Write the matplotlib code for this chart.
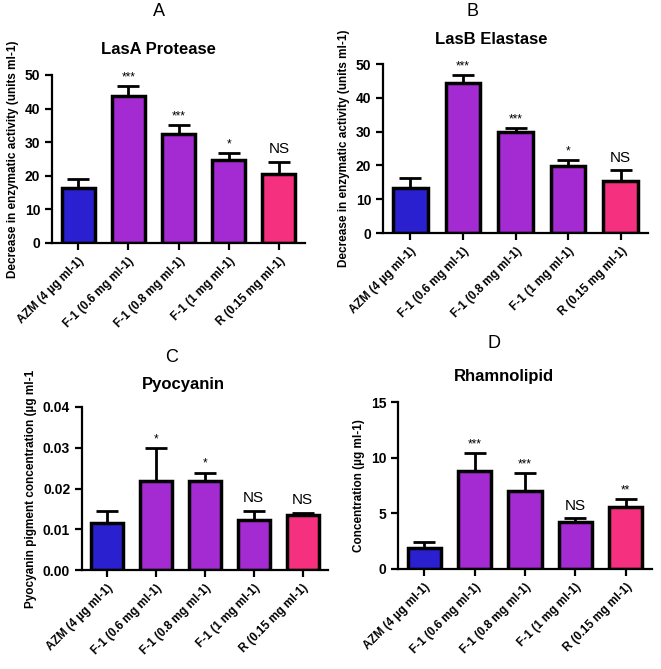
import numpy as np
import matplotlib
matplotlib.use('Agg')
import matplotlib.pyplot as plt

plt.rcParams['font.family'] = ['Liberation Sans', 'DejaVu Sans']

groups = ['AZM (4 µg ml-1)', 'F-1 (0.6 mg ml-1)', 'F-1 (0.8 mg ml-1)',
          'F-1 (1 mg ml-1)', 'R (0.15 mg ml-1)']
colors = ['#2b20d0', '#a42ad2', '#a42ad2', '#a42ad2', '#f5307f']

lasa_mean = [16.3, 43.8, 32.4, 24.8, 20.6]
lasa_err = [2.7, 2.8, 2.6, 1.9, 3.5]
lasa_sig = ['', '***', '***', '*', 'NS']

lasb_mean = [13.3, 44.4, 29.8, 19.9, 15.5]
lasb_err = [3.0, 2.2, 1.3, 1.7, 3.1]
lasb_sig = ['', '***', '***', '*', 'NS']

pyo_mean = [0.0115, 0.0219, 0.0219, 0.0122, 0.0135]
pyo_err = [0.0031, 0.0081, 0.0020, 0.0024, 0.0006]
pyo_sig = ['', '*', '*', 'NS', 'NS']

rha_mean = [1.85, 8.78, 7.05, 4.24, 5.6]
rha_err = [0.57, 1.65, 1.58, 0.3, 0.7]
rha_sig = ['', '***', '***', 'NS', '**']

fig = plt.figure(figsize=(6.61, 6.69), dpi=100)


def panel(rect, mean, err, sig, ymax, yticks, fmt, ylabel, letter, lpos, title, tpos):
    ax = fig.add_axes(rect)
    x = np.arange(len(groups))
    ax.bar(x, mean, width=0.66, color=colors, edgecolor='black', linewidth=2.5, zorder=2)
    ax.errorbar(x, mean, yerr=[np.zeros(len(err)), err], fmt='none', ecolor='black',
                elinewidth=2, capsize=8, capthick=2, zorder=1)
    for xi, m, e, s in zip(x, mean, err, sig):
        if s == 'NS':
            ax.annotate(s, (xi, m + e), xytext=(0, 4), textcoords='offset points',
                        ha='center', va='bottom', fontsize=11)
        elif s:
            ax.annotate(s, (xi, m + e), xytext=(0, 2), textcoords='offset points',
                        ha='center', va='bottom', fontsize=8.5)
    ax.set_xlim(-0.52, 4.52)
    ax.set_ylim(0, ymax)
    ax.set_yticks(yticks)
    ax.set_yticklabels([fmt.format(t) for t in yticks], fontsize=10, fontweight='bold')
    ax.set_xticks(x)
    ax.set_xticklabels(groups, rotation=45, ha='right', rotation_mode='anchor',
                       fontsize=8.5, fontweight='bold')
    ax.spines['top'].set_visible(False)
    ax.spines['right'].set_visible(False)
    ax.spines['left'].set_linewidth(1.6)
    ax.spines['bottom'].set_linewidth(1.6)
    ax.tick_params(width=1.6, length=5)
    ax.set_ylabel(ylabel, fontsize=8.5, fontweight='bold')
    fig.text(lpos[0] / 661, 1 - lpos[1] / 669, letter, ha='center', va='center', fontsize=13)
    fig.text(tpos[0] / 661, 1 - tpos[1] / 669, title, ha='center', va='center',
             fontsize=12, fontweight='bold')
    return ax


panel([52 / 661, 1 - 243 / 669, 253 / 661, 168 / 669], lasa_mean, lasa_err, lasa_sig,
      50, [0, 10, 20, 30, 40, 50], '{:g}',
      'Decrease in enzymatic activity (units ml-1)', 'A', (159, 12), 'LasA Protease', (158, 50))
panel([383 / 661, 1 - 233 / 669, 265 / 661, 169 / 669], lasb_mean, lasb_err, lasb_sig,
      50, [0, 10, 20, 30, 40, 50], '{:g}',
      'Decrease in enzymatic activity (units ml-1)', 'B', (473, 12), 'LasB Elastase', (491, 40))
panel([82 / 661, 1 - 570 / 669, 246 / 661, 163 / 669], pyo_mean, pyo_err, pyo_sig,
      0.04, [0, 0.01, 0.02, 0.03, 0.04], '{:.2f}',
      'Pyocyanin pigment concentration (µg ml-1', 'C', (172, 357), 'Pyocyanin', (183, 384))
panel([398 / 661, 1 - 569 / 669, 254 / 661, 167 / 669], rha_mean, rha_err, rha_sig,
      15, [0, 5, 10, 15], '{:g}',
      'Concentration (µg ml-1)', 'D', (494, 344), 'Rhamnolipid', (504, 377))

fig.savefig('out.png', dpi=100)
